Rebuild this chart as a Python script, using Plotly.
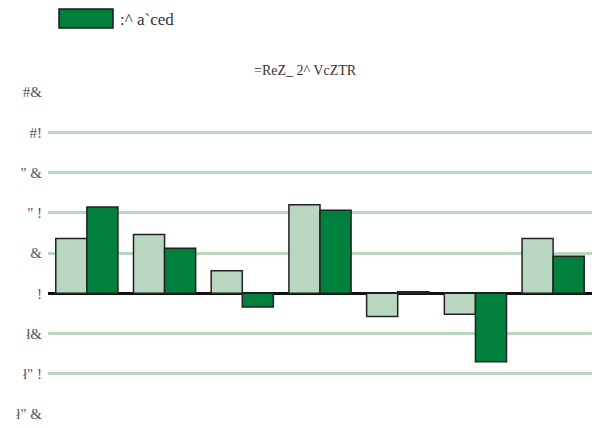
import plotly.graph_objects as go

# data (labels kept exactly as they are rendered there)
categories = ['A', 'B', 'C', 'D', 'E', 'F', 'G']
light_values = [6.8, 7.3, 2.8, 11.0, -2.9, -2.6, 6.8]
dark_values = [10.7, 5.6, -1.7, 10.3, 0.2, -8.5, 4.6]
tick_vals = [25, 20, 15, 10, 5, 0, -5, -10, -15]
tick_text = ['#&', '#!', '" &', '" !', '&', '!', 'ł&', 'ł" !', 'ł" &']
grid_vals = [20, 15, 10, 5, -5, -10]
legend_name = ':^ a`ced'
chart_title = '=ReZ_ 2^ VcZTR'

W, H = 598, 428
pl, pr, pt, pb = 48, 6, 92, 14
pw, ph = W - pl - pr, H - pt - pb

def px(x):
    return (x - pl) / pw

def py(y):
    return (H - pb - y) / ph

fig = go.Figure()
fig.add_trace(go.Bar(x=categories, y=light_values, name='light',
                     marker=dict(color='#b8d6c0', line=dict(color='#222222', width=1.5)),
                     showlegend=False))
fig.add_trace(go.Bar(x=categories, y=dark_values, name=legend_name,
                     marker=dict(color='#00803c', line=dict(color='#222222', width=1.5)),
                     showlegend=False))
# invisible trace carrying the gridlines axis
fig.add_trace(go.Scatter(x=categories, y=[None] * len(categories), yaxis='y2',
                         showlegend=False, hoverinfo='skip'))

fig.update_layout(
    width=W, height=H,
    margin=dict(l=pl, r=pr, t=pt, b=pb),
    barmode='group', bargap=0.2, bargroupgap=0,
    paper_bgcolor='white', plot_bgcolor='white',
    font=dict(family='Liberation Serif', size=14, color='#333333'),
    xaxis=dict(showticklabels=False, showgrid=False, zeroline=False, showline=False,
               ticks='', automargin=False),
    yaxis=dict(range=[-15, 25], tickvals=tick_vals, ticktext=tick_text,
               showgrid=False, zeroline=True, zerolinecolor='#111111', zerolinewidth=2.5,
               showline=False, ticks='', ticklabelstandoff=5, automargin=False,
               tickfont=dict(family='Liberation Serif', size=15, color='#555555')),
    yaxis2=dict(range=[-15, 25], overlaying='y', tickvals=grid_vals, showticklabels=False,
                showgrid=True, gridcolor='#b8d8c0', gridwidth=3, zeroline=False,
                showline=False, automargin=False),
    annotations=[
        dict(text=chart_title, x=px(305), y=py(70), xref='paper', yref='paper',
             xanchor='center', yanchor='middle', showarrow=False, font=dict(size=14)),
        dict(text=legend_name, x=px(118), y=py(19), xref='paper', yref='paper',
             xanchor='left', yanchor='middle', showarrow=False, font=dict(size=17)),
    ],
)
# legend drawn by hand: big swatch next to the label
fig.add_shape(type='rect', xref='paper', yref='paper',
              x0=px(59), x1=px(113), y0=py(28), y1=py(9),
              fillcolor='#00803c', line=dict(color='#1a1a1a', width=1.5))

# drop the browser's default body margin so the figure sits at the page corner
fig.write_html('out.html', config={'displayModeBar': False},
               post_script="document.body.style.margin='0';")
